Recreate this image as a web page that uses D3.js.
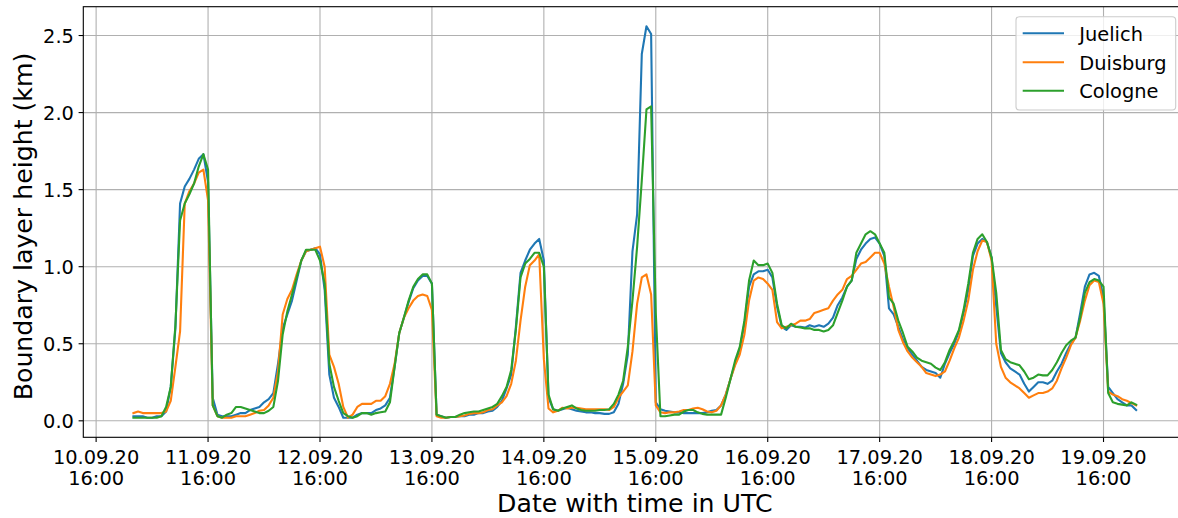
<!DOCTYPE html>
<html>
<head>
<meta charset="utf-8">
<script src="https://cdn.jsdelivr.net/npm/d3@7"></script>
<style>
  html, body { margin: 0; padding: 0; background: #ffffff; }
  svg { display: block; font-family: "DejaVu Sans", sans-serif; }
</style>
</head>
<body>
<svg id="chart" width="1178" height="518"></svg>
<script>
// ---- data (hourly values, 11.09.2020 00:00 UTC .. 19.09.2020 23:00 UTC) ----
const seriesNames = ["Juelich", "Duisburg", "Cologne"];
const seriesColors = ["#1f77b4", "#ff7f0e", "#2ca02c"];
const startTime = "2020-09-11T00:00:00Z";

const juelich = [
  0.03,0.03,0.03,0.02,0.02,0.03,0.03,0.06,0.22,0.60,1.41,1.52,1.57,1.63,1.70,1.73,1.55,0.15,0.04,0.03,0.03,0.03,0.04,0.05,
  0.05,0.07,0.08,0.09,0.12,0.14,0.18,0.37,0.60,0.69,0.78,0.91,1.04,1.10,1.11,1.12,1.08,0.85,0.30,0.15,0.09,0.02,0.02,0.02,
  0.04,0.05,0.05,0.05,0.07,0.08,0.10,0.15,0.35,0.57,0.67,0.77,0.86,0.91,0.94,0.94,0.89,0.04,0.03,0.02,0.025,0.025,0.03,0.03,
  0.04,0.04,0.05,0.05,0.06,0.065,0.09,0.13,0.21,0.30,0.61,0.96,1.04,1.11,1.15,1.18,1.04,0.15,0.075,0.065,0.075,0.085,0.075,0.065,
  0.06,0.055,0.055,0.05,0.05,0.045,0.045,0.055,0.11,0.24,0.43,1.10,1.34,2.38,2.56,2.51,0.12,0.075,0.065,0.06,0.055,0.055,0.05,0.05,
  0.05,0.05,0.05,0.055,0.065,0.07,0.10,0.17,0.27,0.37,0.46,0.63,0.87,0.95,0.97,0.97,0.98,0.93,0.74,0.61,0.59,0.62,0.61,0.61,
  0.605,0.62,0.61,0.62,0.61,0.63,0.67,0.75,0.80,0.87,0.91,1.05,1.11,1.15,1.18,1.19,1.15,1.07,0.73,0.69,0.61,0.53,0.47,0.43,
  0.39,0.35,0.33,0.32,0.31,0.28,0.37,0.44,0.50,0.58,0.70,0.85,1.07,1.15,1.18,1.16,1.06,0.74,0.44,0.38,0.34,0.32,0.30,0.24,
  0.19,0.22,0.25,0.25,0.24,0.26,0.32,0.37,0.44,0.50,0.54,0.70,0.87,0.95,0.96,0.94,0.80,0.22,0.18,0.14,0.12,0.10,0.10,0.07
];
const duisburg = [
  0.05,0.06,0.05,0.05,0.05,0.05,0.05,0.06,0.13,0.35,0.58,1.41,1.49,1.54,1.61,1.63,1.43,0.10,0.03,0.02,0.02,0.02,0.03,0.03,
  0.03,0.04,0.05,0.065,0.07,0.10,0.15,0.32,0.69,0.79,0.85,0.95,1.04,1.10,1.11,1.12,1.13,1.00,0.43,0.35,0.24,0.09,0.02,0.04,
  0.09,0.11,0.11,0.11,0.13,0.13,0.16,0.24,0.37,0.57,0.67,0.73,0.78,0.81,0.82,0.81,0.72,0.03,0.02,0.02,0.025,0.025,0.03,0.035,
  0.045,0.05,0.05,0.055,0.07,0.075,0.10,0.12,0.16,0.24,0.39,0.65,0.87,1.01,1.04,1.08,0.40,0.08,0.055,0.065,0.085,0.08,0.085,0.085,
  0.08,0.075,0.075,0.075,0.075,0.075,0.07,0.09,0.15,0.19,0.23,0.45,0.76,0.93,0.95,0.82,0.10,0.055,0.05,0.055,0.055,0.06,0.07,0.07,
  0.08,0.085,0.075,0.06,0.055,0.065,0.10,0.17,0.27,0.36,0.43,0.56,0.78,0.91,0.93,0.92,0.89,0.85,0.64,0.60,0.61,0.62,0.63,0.65,
  0.65,0.66,0.70,0.71,0.72,0.73,0.78,0.82,0.85,0.92,0.94,0.98,1.02,1.03,1.06,1.09,1.09,1.02,0.87,0.74,0.59,0.51,0.45,0.41,
  0.38,0.35,0.31,0.30,0.29,0.30,0.32,0.39,0.47,0.54,0.65,0.78,0.98,1.10,1.17,1.16,1.04,0.50,0.35,0.28,0.25,0.23,0.21,0.18,
  0.15,0.165,0.18,0.18,0.19,0.21,0.26,0.34,0.41,0.49,0.54,0.65,0.78,0.88,0.91,0.90,0.76,0.19,0.17,0.16,0.14,0.13,0.115,0.10
];
const cologne = [
  0.02,0.02,0.02,0.02,0.02,0.02,0.03,0.09,0.22,0.62,1.30,1.41,1.47,1.54,1.65,1.73,1.63,0.10,0.03,0.02,0.04,0.05,0.09,0.09,
  0.08,0.07,0.06,0.05,0.05,0.065,0.09,0.26,0.56,0.71,0.82,0.93,1.04,1.11,1.11,1.11,1.04,0.89,0.37,0.22,0.13,0.05,0.03,0.02,
  0.03,0.05,0.05,0.04,0.05,0.055,0.06,0.12,0.35,0.57,0.67,0.78,0.87,0.92,0.95,0.95,0.89,0.04,0.03,0.02,0.025,0.025,0.04,0.05,
  0.055,0.06,0.06,0.07,0.08,0.09,0.11,0.16,0.22,0.33,0.59,0.93,1.02,1.05,1.09,1.09,1.00,0.17,0.075,0.065,0.08,0.09,0.10,0.08,
  0.07,0.065,0.065,0.065,0.07,0.07,0.075,0.11,0.17,0.26,0.48,0.78,1.13,1.56,2.02,2.04,0.70,0.03,0.03,0.035,0.04,0.04,0.06,0.07,
  0.07,0.055,0.045,0.04,0.04,0.04,0.04,0.15,0.27,0.39,0.48,0.65,0.91,1.04,1.01,1.01,1.02,0.96,0.76,0.62,0.60,0.63,0.61,0.605,
  0.60,0.60,0.59,0.59,0.58,0.59,0.62,0.70,0.78,0.87,0.91,1.09,1.15,1.21,1.23,1.21,1.15,1.09,0.80,0.76,0.65,0.57,0.48,0.45,
  0.41,0.39,0.38,0.37,0.345,0.33,0.38,0.46,0.52,0.59,0.72,0.89,1.09,1.18,1.21,1.16,1.06,0.83,0.46,0.40,0.38,0.37,0.36,0.32,
  0.27,0.28,0.30,0.295,0.295,0.33,0.38,0.44,0.49,0.52,0.54,0.67,0.83,0.90,0.92,0.91,0.87,0.18,0.12,0.11,0.105,0.10,0.12,0.105
];

const xTickTimes = [
  "2020-09-10T16:00:00Z","2020-09-11T16:00:00Z","2020-09-12T16:00:00Z","2020-09-13T16:00:00Z","2020-09-14T16:00:00Z",
  "2020-09-15T16:00:00Z","2020-09-16T16:00:00Z","2020-09-17T16:00:00Z","2020-09-18T16:00:00Z","2020-09-19T16:00:00Z"
];
const xTickDates = ["10.09.20","11.09.20","12.09.20","13.09.20","14.09.20","15.09.20","16.09.20","17.09.20","18.09.20","19.09.20"];
const xTickHours = ["16:00","16:00","16:00","16:00","16:00","16:00","16:00","16:00","16:00","16:00"];
const yTicks = [0.0, 0.5, 1.0, 1.5, 2.0, 2.5];
const yTickLabels = ["0.0","0.5","1.0","1.5","2.0","2.5"];
const xLabel = "Date with time in UTC";
const yLabel = "Boundary layer height (km)";

// ---- layout ----
const svg = d3.select("#chart");
const plot = { left: 83.3, right: 1186.3, top: 6.7, bottom: 437.3 };
const allSeries = [juelich, duisburg, cologne];
const t0 = new Date(startTime);
const times = juelich.map((_, i) => d3.utcHour.offset(t0, i));

const tExt = d3.extent(times);
const tPad = (tExt[1] - tExt[0]) * 0.05;
const x = d3.scaleUtc()
  .domain([new Date(+tExt[0] - tPad), new Date(+tExt[1] + tPad)])
  .range([plot.left, plot.right]);

const allVals = allSeries.flat();
const vExt = d3.extent(allVals);
const vPad = (vExt[1] - vExt[0]) * 0.05;
const y = d3.scaleLinear()
  .domain([vExt[0] - vPad, vExt[1] + vPad])
  .range([plot.bottom, plot.top]);

const tickDates = xTickTimes.map(s => new Date(s));
const tickLen = 4.7, tickPad = 4.7;
const tickFont = "19.4px", labelFont = "25.2px";

// clip
svg.append("defs").append("clipPath").attr("id", "clip")
  .append("rect").attr("x", plot.left).attr("y", plot.top)
  .attr("width", plot.right - plot.left).attr("height", plot.bottom - plot.top);

// grid
const grid = svg.append("g").attr("clip-path", "url(#clip)");
grid.selectAll("line.vg").data(tickDates).join("line")
  .attr("x1", d => x(d)).attr("x2", d => x(d))
  .attr("y1", plot.top).attr("y2", plot.bottom)
  .attr("stroke", "#b0b0b0").attr("stroke-width", 1.1);
grid.selectAll("line.hg").data(yTicks).join("line")
  .attr("x1", plot.left).attr("x2", plot.right)
  .attr("y1", d => y(d)).attr("y2", d => y(d))
  .attr("stroke", "#b0b0b0").attr("stroke-width", 1.1);

// lines
const lineGen = d3.line().x((d, i) => x(times[i])).y(d => y(d));
const linesG = svg.append("g").attr("clip-path", "url(#clip)");
allSeries.forEach((s, k) => {
  linesG.append("path").datum(s)
    .attr("d", lineGen)
    .attr("fill", "none")
    .attr("stroke", seriesColors[k])
    .attr("stroke-width", 2.1)
    .attr("stroke-linejoin", "round")
    .attr("stroke-linecap", "square");
});

// spines
svg.append("rect")
  .attr("x", plot.left).attr("y", plot.top)
  .attr("width", plot.right - plot.left).attr("height", plot.bottom - plot.top)
  .attr("fill", "none").attr("stroke", "#000").attr("stroke-width", 1.1);

// x ticks
const xt = svg.append("g");
xt.selectAll("line").data(tickDates).join("line")
  .attr("x1", d => x(d)).attr("x2", d => x(d))
  .attr("y1", plot.bottom).attr("y2", plot.bottom + tickLen)
  .attr("stroke", "#000").attr("stroke-width", 1.1);
const xtText = xt.selectAll("text").data(tickDates).join("text")
  .attr("x", d => x(d)).attr("y", 463.5)
  .attr("text-anchor", "middle")
  .attr("font-size", tickFont).attr("fill", "#000");
xtText.append("tspan").attr("x", d => x(d)).text((d, i) => xTickDates[i]);
xtText.append("tspan").attr("x", d => x(d)).attr("dy", 21.6).text((d, i) => xTickHours[i]);

// y ticks
const yt = svg.append("g");
yt.selectAll("line").data(yTicks).join("line")
  .attr("x1", plot.left - tickLen).attr("x2", plot.left)
  .attr("y1", d => y(d)).attr("y2", d => y(d))
  .attr("stroke", "#000").attr("stroke-width", 1.1);
yt.selectAll("text").data(yTicks).join("text")
  .attr("x", plot.left - tickLen - tickPad).attr("y", d => y(d) + 7.0)
  .attr("text-anchor", "end")
  .attr("font-size", tickFont).attr("fill", "#000")
  .text((d, i) => yTickLabels[i]);

// axis labels
svg.append("text")
  .attr("x", (plot.left + plot.right) / 2).attr("y", 511.8)
  .attr("text-anchor", "middle").attr("font-size", labelFont).attr("fill", "#000")
  .text(xLabel);
svg.append("text")
  .attr("transform", `translate(31.5, 226.5) rotate(-90)`)
  .attr("text-anchor", "middle").attr("font-size", labelFont).attr("fill", "#000")
  .text(yLabel);

// legend
const lg = svg.append("g");
lg.append("rect")
  .attr("x", 1016).attr("y", 16.7).attr("width", 159.7).attr("height", 93.3)
  .attr("rx", 3.5).attr("ry", 3.5)
  .attr("fill", "#ffffff").attr("fill-opacity", 0.8)
  .attr("stroke", "#cccccc").attr("stroke-width", 1.1);
const rowY = [33.3, 62.3, 90.7];
seriesNames.forEach((name, k) => {
  lg.append("line")
    .attr("x1", 1022.7).attr("x2", 1064)
    .attr("y1", rowY[k]).attr("y2", rowY[k])
    .attr("stroke", seriesColors[k]).attr("stroke-width", 2.1);
  lg.append("text")
    .attr("x", 1079.3).attr("y", rowY[k] + 7.6)
    .attr("font-size", tickFont).attr("fill", "#000")
    .text(name);
});
</script>
</body>
</html>
